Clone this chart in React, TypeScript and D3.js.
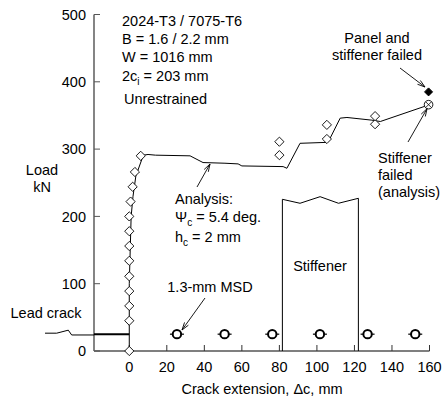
import * as d3 from "d3";

// test data (diamonds)
const testCrack = [0, 0, 0, 0, 0, 0, 0, 0, 0, 0.7, 1.8, 3.0, 6.1, 80, 80, 105.3, 105.3, 131, 131];
const testLoad = [0, 45, 67, 89, 111, 134, 156, 178, 200, 222, 244, 266, 290, 291, 311, 315, 336, 337, 349];

// analysis curve
const analysisCrack = [0, 0, 0.5, 1, 2, 3.5, 7.5, 10, 14, 32.4, 39.3, 51, 58, 60, 82, 84, 91, 105.3, 107, 112.4, 116, 129.3, 133.8, 159.5];
const analysisLoad = [0, 100, 150, 200, 230, 260, 291, 292, 291, 290, 280, 279, 278, 275, 274, 271.5, 308.6, 310, 316, 346, 347, 343, 341, 365.5];

const panelFailed = { crack: 159.5, load: 385 };
const stiffenerFailed = { crack: 159.5, load: 366 };

// MSD holes, 1-inch pitch
const holeCrack = [25.4, 50.8, 76.2, 101.6, 127, 152.4];
const crackLoad = 25;

// stiffener outline
const stiffCrack = [81.6, 91, 101.7, 111.5, 122.1];
const stiffTop = [225.4, 219.5, 229.3, 219.5, 226.9];

const xTicks = [0, 20, 40, 60, 80, 100, 120, 140, 160];
const yTicks = [0, 100, 200, 300, 400, 500];

const FONT = "'Liberation Sans', Arial, Helvetica, sans-serif";

const x = d3.scaleLinear().domain([-18.8, 160]).range([94, 429.5]);
const y = d3.scaleLinear().domain([0, 500]).range([351, 14.5]);

const diamond = (cx: number, cy: number, r: number) =>
  `M${cx},${cy - r}L${cx + r},${cy}L${cx},${cy + r}L${cx - r},${cy}Z`;

// line with a small open arrow head at (x2, y2)
const arrow = (x1: number, y1: number, x2: number, y2: number) => {
  const a = Math.atan2(y2 - y1, x2 - x1);
  const len = 8;
  const spread = 0.3;
  const p1 = [x2 - len * Math.cos(a - spread), y2 - len * Math.sin(a - spread)];
  const p2 = [x2 - len * Math.cos(a + spread), y2 - len * Math.sin(a + spread)];
  return `M${x1},${y1}L${x2},${y2}M${p1[0]},${p1[1]}L${x2},${y2}L${p2[0]},${p2[1]}`;
};

export default function App() {
  const line = d3
    .line<number>()
    .x((d, i) => x(analysisCrack[i]))
    .y((d) => y(d));

  const stiffPath =
    `M${x(stiffCrack[0])},${y(0)}` +
    stiffCrack.map((c, i) => `L${x(c)},${y(stiffTop[i])}`).join("") +
    `L${x(stiffCrack[stiffCrack.length - 1])},${y(0)}`;

  const cy = y(crackLoad);
  const sx = x(stiffenerFailed.crack);
  const sy = y(stiffenerFailed.load);

  return (
    <svg
      width={443}
      height={401}
      style={{ position: "absolute", left: 0, top: 0, background: "#fff" }}
      fontFamily={FONT}
      fontSize={14.5}
    >
      {/* stiffener */}
      <path d={stiffPath} fill="none" stroke="#000" strokeWidth={1} />
      <text x={320} y={271} textAnchor="middle">Stiffener</text>

      {/* axes */}
      <line x1={x.range()[0]} x2={x.range()[1]} y1={y(0)} y2={y(0)} stroke="#000" strokeWidth={1.2} />
      <line x1={x.range()[0]} x2={x.range()[0]} y1={y(0)} y2={y(500)} stroke="#666" strokeWidth={1.6} />
      {yTicks.map((t) => (
        <g key={"y" + t}>
          <line x1={x.range()[0]} x2={x.range()[0] + 6} y1={y(t)} y2={y(t)} stroke="#555" />
          <text x={86} y={y(t)} dy="0.36em" textAnchor="end">{t}</text>
        </g>
      ))}
      {xTicks.map((t) => (
        <g key={"x" + t}>
          <line x1={x(t)} x2={x(t)} y1={y(0)} y2={y(0) - 6} stroke="#333" />
          <text x={x(t)} y={372} textAnchor="middle">{t}</text>
        </g>
      ))}
      <text x={262} y={394} textAnchor="middle">Crack extension, Δc, mm</text>
      <text x={42} y={175} textAnchor="middle">Load</text>
      <text x={42} y={192} textAnchor="middle">kN</text>

      {/* lead crack */}
      <path
        d={`M${x(-44.9)},${cy - 1}L${x(-38.7)},${cy - 1}L${x(-32.5)},${cy - 4}L${x(-30.7)},${cy + 0.8}L${x(-18.8)},${cy + 0.8}`}
        fill="none"
        stroke="#000"
        strokeWidth={1}
      />
      <line x1={x(-18.8)} x2={x(0)} y1={cy} y2={cy} stroke="#000" strokeWidth={2} />
      <text x={46} y={318} textAnchor="middle">Lead crack</text>

      {/* MSD holes */}
      {holeCrack.map((h) => (
        <g key={"h" + h}>
          <line x1={x(h) - 7} x2={x(h) + 7} y1={cy} y2={cy} stroke="#000" strokeWidth={1.2} />
          <circle cx={x(h)} cy={cy} r={4.2} fill="#fff" stroke="#000" strokeWidth={2} />
        </g>
      ))}
      <text x={210} y={292} textAnchor="middle">1.3-mm MSD</text>
      <path d={arrow(205, 298, 182, 330)} fill="none" stroke="#000" strokeWidth={0.9} />

      {/* analysis curve */}
      <path d={line(analysisLoad) || ""} fill="none" stroke="#000" strokeWidth={1} />

      {/* test data */}
      {testLoad.map((l, i) => (
        <path key={"d" + i} d={diamond(x(testCrack[i]), y(l), 4.6)} fill="#fff" stroke="#000" strokeWidth={0.9} />
      ))}

      {/* failure points */}
      <path d={diamond(x(panelFailed.crack), y(panelFailed.load), 4)} fill="#000" stroke="#000" />
      <circle cx={sx} cy={sy} r={4.3} fill="#fff" stroke="#000" strokeWidth={0.9} />
      <path
        d={`M${sx - 3},${sy - 3}L${sx + 3},${sy + 3}M${sx + 3},${sy - 3}L${sx - 3},${sy + 3}`}
        stroke="#000"
        strokeWidth={0.8}
      />

      {/* annotations */}
      <g>
        <text x={122} y={26}>2024-T3 / 7075-T6</text>
        <text x={122} y={44}>B = 1.6 / 2.2 mm</text>
        <text x={122} y={62}>W = 1016 mm</text>
        <text x={122} y={81}>
          2c<tspan fontSize={10} dy={4}>i</tspan>
          <tspan dy={-4}> = 203 mm</tspan>
        </text>
        <text x={124} y={104}>Unrestrained</text>
      </g>

      <text x={175} y={204}>Analysis:</text>
      <text x={175} y={222}>
        Ψ<tspan fontSize={10} dy={4}>c</tspan>
        <tspan dy={-4}> = 5.4 deg.</tspan>
      </text>
      <text x={175} y={242}>
        h<tspan fontSize={10} dy={4}>c</tspan>
        <tspan dy={-4}> = 2 mm</tspan>
      </text>
      <path d={arrow(197, 187, 210, 164)} fill="none" stroke="#000" strokeWidth={0.9} />

      <text x={377} y={43} textAnchor="middle">Panel and</text>
      <text x={377} y={60} textAnchor="middle">stiffener failed</text>
      <path d={arrow(400, 68, 425, 87)} fill="none" stroke="#000" strokeWidth={0.9} />

      <text x={378} y={163}>Stiffener</text>
      <text x={378} y={180}>failed</text>
      <text x={378} y={197}>(analysis)</text>
      <path d={arrow(408, 142, sx - 1.5, sy + 4)} fill="none" stroke="#000" strokeWidth={0.9} />
    </svg>
  );
}
